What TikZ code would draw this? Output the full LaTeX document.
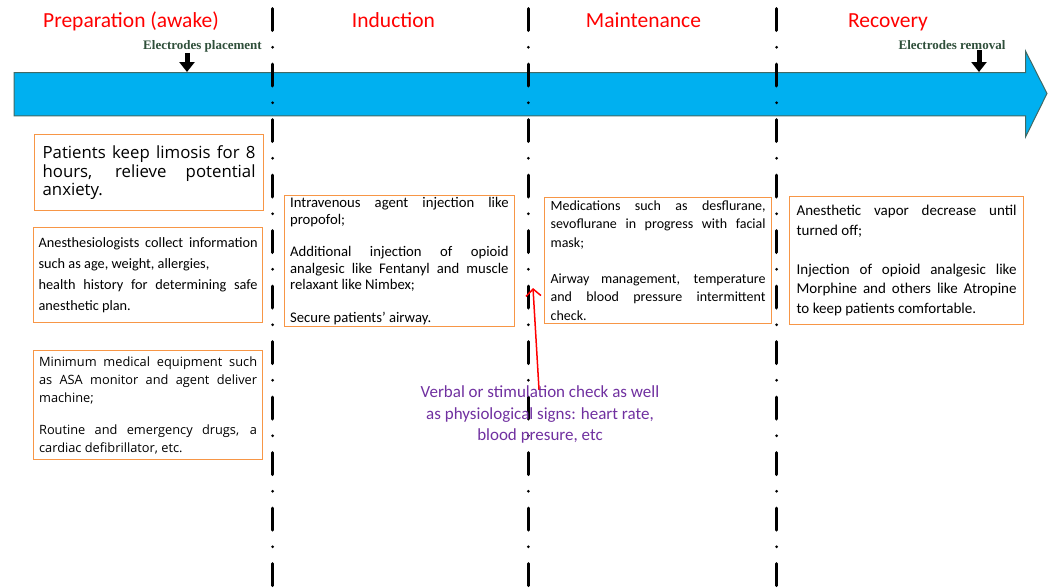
\documentclass[tikz,border=0pt]{standalone}
\usepackage{fontspec}
\setmainfont{Carlito}
\newfontfamily\opensans{Open Sans}
\newfontfamily\timesfont{Liberation Serif}
\usepackage{tikz}
\usetikzlibrary{arrows.meta,positioning}
\definecolor{phasered}{RGB}{255,0,0}
\definecolor{boxorange}{RGB}{247,150,70}
\definecolor{timecyan}{RGB}{0,176,240}
\definecolor{timeedge}{RGB}{65,105,100}
\definecolor{electgreen}{RGB}{47,79,58}
\definecolor{notepurple}{RGB}{112,48,160}
\tolerance=9999
\hbadness=10000
\hyphenpenalty=10000

\begin{document}
\begin{tikzpicture}[x=1pt,y=-1pt,
  phase/.style={text=phasered,anchor=base,inner sep=0pt,font=\fontsize{21.5}{24}\selectfont},
  electrode/.style={text=electgreen,anchor=base,inner sep=1pt,font=\timesfont\bfseries\fontsize{13}{15}\selectfont},
  elarrow/.style={line width=5pt,-{Triangle[width=15pt,length=10pt]}},
  timeline/.style={fill=timecyan,draw=timeedge,line width=1pt},
  divider/.style={line width=3pt,line cap=round,dash pattern=on 22pt off 16.75pt on 0pt off 16.75pt},
  stagebox/.style={draw=boxorange,line width=1.2pt,anchor=north west,align=justify,inner ysep=2pt},
  note/.style={text=notepurple,align=center,inner sep=0pt,font=\fontsize{17}{21.5}\selectfont},
  checkarrow/.style={draw=phasered,line width=1.5pt,-{Straight Barb[length=7pt,width=15pt]}}]

  \useasboundingbox (0,0) rectangle (1052,587);

  \draw[timeline] (14,72.5) -- (1025.5,72.5) -- (1025.5,51) -- (1047,93.5) -- (1025.5,137) -- (1025.5,115.8) -- (14,115.8) -- cycle;

  \foreach \x in {272.7,528.3,776.7}
    \draw[divider] (\x,8.5) -- (\x,590);

  \node[phase] (prep) at (131,27.3) {Preparation (awake)};
  \node[phase] (induct) at (393.5,27.3) {Induction};
  \node[phase] (maint) at (643.5,27.3) {Maintenance};
  \node[phase] (recov) at (888,27.3) {Recovery};

  \node[electrode] (elplace) at (202.5,49) {Electrodes placement};
  \node[electrode] (elremove) at (952,49) {Electrodes removal};
  \coordinate (tplace) at (187,72);
  \coordinate (tremove) at (979,72);
  \draw[elarrow] (elplace.south -| tplace) -- (tplace);
  \draw[elarrow] (elremove.south -| tremove) -- (tremove);

  \node[stagebox,minimum width=229,minimum height=76,inner xsep=8pt,text width=213,
        font=\opensans\fontsize{16.8}{18.5}\selectfont] (fasting) at (34,134)
        {Patients keep limosis for 8\linebreak hours, relieve potential\linebreak anxiety.};

  \node[stagebox,minimum width=229,minimum height=95,inner xsep=5pt,text width=219,
        font=\fontsize{14.3}{21}\selectfont] (history) at (33,227)
        {Anesthesiologists collect information\linebreak such as age, weight, allergies,\\
         health history for determining safe\linebreak anesthetic plan.};

  \node[stagebox,minimum width=229,minimum height=109,inner xsep=5.5pt,text width=218,
        font=\opensans\fontsize{12.8}{18}\selectfont] (equip) at (33,350)
        {Minimum medical equipment such\linebreak as ASA monitor and agent deliver\linebreak machine;\\[14pt]
         Routine and emergency drugs, a\linebreak cardiac defibrillator, etc.};

  \node[stagebox,minimum width=230.5,minimum height=127,inner xsep=6pt,text width=218.5,
        font=\fontsize{14.7}{16.3}\selectfont] (ivagent) at (283.5,195)
        {Intravenous agent injection like\linebreak propofol;\\[16.5pt]
         Additional injection of opioid\linebreak analgesic like Fentanyl and muscle\linebreak relaxant like Nimbex;\\[16.5pt]
         Secure patients’ airway.};

  \node[stagebox,minimum width=227,minimum height=126,inner xsep=6pt,text width=215,
        font=\fontsize{14}{18.3}\selectfont] (inhal) at (544,197)
        {Medications such as desflurane,\linebreak sevoflurane in progress with facial\linebreak mask;\\[18pt]
         Airway management, temperature\linebreak and blood pressure intermittent\linebreak check.};

  \node[stagebox,minimum width=234,minimum height=128,inner xsep=7pt,text width=220,
        font=\fontsize{15}{19.5}\selectfont] (vapor) at (789,196)
        {Anesthetic vapor decrease until\linebreak turned off;\\[19.5pt]
         Injection of opioid analgesic like\linebreak Morphine and others like Atropine\linebreak to keep patients comfortable.};

  \node[note] (vcheck) at (540,414.5) {Verbal or stimulation check as well\\as physiological signs: heart rate,\\blood presure, etc};
  \coordinate (tcheck) at (533,288);
  \draw[checkarrow] ([xshift=-1pt,yshift=-4pt]vcheck.north) -- (tcheck);

\end{tikzpicture}
\end{document}
